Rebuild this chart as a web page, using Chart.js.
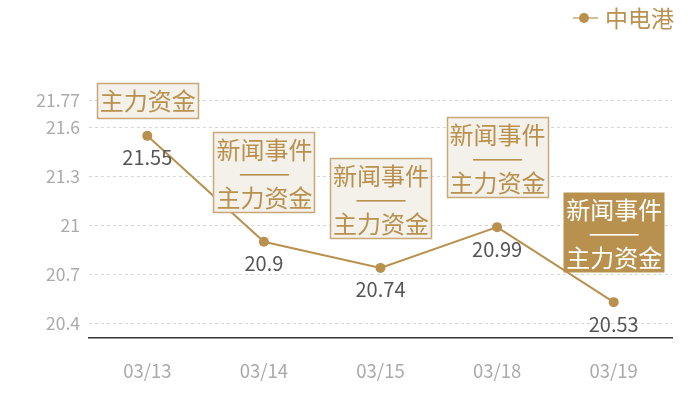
<!DOCTYPE html>
<html>
<head>
<meta charset="utf-8">
<script src="https://cdn.jsdelivr.net/npm/chart.js@4"></script>
<style>
html,body{margin:0;padding:0;background:#fff;}
#wrap{width:700px;height:400px;}
</style>
</head>
<body>
<div id="wrap"><canvas id="c" width="700" height="400"></canvas></div>
<script>
const seriesName = '中电港';
const categories = ['03/13', '03/14', '03/15', '03/18', '03/19'];
const prices = [21.55, 20.9, 20.74, 20.99, 20.53];
const yTicks = [20.4, 20.7, 21, 21.3, 21.6, 21.77];
const yMin = 20.31;
const yMax = 21.77;
const eventLabels = [
  ['主力资金'],
  ['新闻事件', '——', '主力资金'],
  ['新闻事件', '——', '主力资金'],
  ['新闻事件', '——', '主力资金'],
  ['新闻事件', '——', '主力资金']
];
const highlighted = [false, false, false, false, true];

const GOLD = '#b8914f';
const FONT = '"Noto Sans CJK SC", "Noto Sans", sans-serif';

const overlay = {
  id: 'overlay',
  afterDatasetsDraw(chart) {
    const ctx = chart.ctx;
    const meta = chart.getDatasetMeta(0);
    ctx.save();
    // value labels
    ctx.font = '20px ' + FONT;
    ctx.fillStyle = '#555';
    ctx.textAlign = 'center';
    ctx.textBaseline = 'middle';
    meta.data.forEach((pt, i) => {
      ctx.fillText(String(prices[i]), pt.x, pt.y + 22);
    });
    // event boxes
    meta.data.forEach((pt, i) => {
      const lines = eventLabels[i];
      const w = 101;
      const pitch = 24;
      const h = lines.length === 1 ? 35 : 80;
      const gap = lines.length === 1 ? 18 : 30;
      const x0 = Math.round(pt.x - w / 2) + 0.5;
      const y0 = Math.round(pt.y - gap - h) + 0.5;
      ctx.fillStyle = highlighted[i] ? GOLD : '#f4f0ea';
      ctx.fillRect(x0, y0, w, h);
      if (!highlighted[i]) {
        ctx.strokeStyle = '#c9a878';
        ctx.lineWidth = 1.5;
        ctx.strokeRect(x0, y0, w, h);
      }
      ctx.fillStyle = highlighted[i] ? '#ffffff' : GOLD;
      ctx.font = '24px ' + FONT;
      ctx.textAlign = 'center';
      ctx.textBaseline = 'middle';
      lines.forEach((t, k) => {
        const cy = y0 + 17.5 + k * pitch;
        if (t === '——') {
          ctx.fillRect(pt.x - 24, cy, 49, 1.6);
        } else {
          ctx.fillText(t, pt.x + 0.5, cy);
        }
      });
    });
    // legend
    const ly = 18;
    ctx.strokeStyle = '#d6bf98';
    ctx.lineWidth = 2;
    ctx.beginPath();
    ctx.moveTo(573, ly);
    ctx.lineTo(598, ly);
    ctx.stroke();
    ctx.fillStyle = GOLD;
    ctx.beginPath();
    ctx.arc(584, ly, 5, 0, Math.PI * 2);
    ctx.fill();
    ctx.font = '23px ' + FONT;
    ctx.textAlign = 'left';
    ctx.textBaseline = 'middle';
    ctx.fillText(chart.data.datasets[0].label, 605, ly);
    ctx.restore();
  }
};

new Chart(document.getElementById('c'), {
  type: 'line',
  data: {
    labels: categories,
    datasets: [{
      label: seriesName,
      data: prices,
      borderColor: GOLD,
      backgroundColor: GOLD,
      borderWidth: 2,
      pointRadius: 5,
      pointHoverRadius: 5,
      pointBackgroundColor: GOLD,
      pointBorderWidth: 0,
      tension: 0
    }]
  },
  options: {
    responsive: false,
    animation: false,
    devicePixelRatio: 1,
    layout: { padding: { top: 100, right: 28, left: 0, bottom: 0 } },
    plugins: {
      legend: { display: false },
      tooltip: { enabled: false }
    },
    scales: {
      x: {
        offset: true,
        grid: { display: false, drawTicks: false },
        border: { display: true, color: '#333', width: 1.5 },
        ticks: { color: '#aaa', font: { size: 18.5, family: FONT }, padding: 22 },
        afterFit(s) { s.height = 62; }
      },
      y: {
        min: yMin,
        max: yMax,
        afterBuildTicks(s) { s.ticks = yTicks.map(v => ({ value: v })); },
        grid: { color: '#d6d6d6', drawTicks: false, lineWidth: 1 },
        border: { display: false, dash: [3, 3] },
        ticks: {
          color: '#aaa',
          font: { size: 17.5, family: FONT },
          padding: 9,
          callback: v => String(v)
        },
        afterFit(s) { s.width = 89; }
      }
    }
  },
  plugins: [overlay]
});
</script>
</body>
</html>
